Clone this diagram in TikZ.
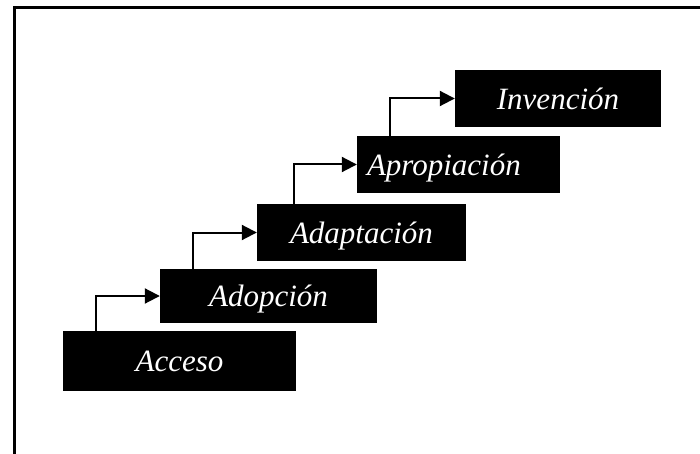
\documentclass[tikz,border=0pt]{standalone}
\usepackage{fontspec}
\setmainfont{Liberation Serif}
\usetikzlibrary{arrows.meta}

\tikzset{
  peldano/.style={fill=black, text=white, inner sep=0pt,
    font=\itshape\fontsize{31}{37}\selectfont,
    text height=23pt, text depth=1.5pt},
  subida/.style={line width=2pt, -{Triangle[length=15pt,width=15pt]}}
}

\begin{document}
\begin{tikzpicture}[x=1pt,y=-1pt]
      \useasboundingbox (0,0) rectangle (700,454);

      % open frame, top and left only
      \draw[line width=3pt] (14,454) -- (14,8) -- (700,8);

      % the five steps
      \node[peldano, minimum width=233pt, minimum height=60pt] (acceso) at (179.5,361) {Acceso};
      \node[peldano, minimum width=217pt, minimum height=54pt] (adopcion) at (268.5,296) {Adopción};
      \node[peldano, minimum width=209pt, minimum height=57pt] (adaptacion) at (361.5,232.5) {Adaptación};
      \node[peldano, minimum width=203pt, minimum height=57pt, text width=183pt, align=left] (apropiacion) at (458.5,164.5) {Apropiación};
      \node[peldano, minimum width=206pt, minimum height=57pt] (invencion) at (558,98.5) {Invención};

      % arrows going up the stairs
      \draw[subida] ([xshift=33pt]acceso.north west) |- (adopcion.west);
      \draw[subida] ([xshift=33pt]adopcion.north west) |- (adaptacion.west);
      \draw[subida] ([xshift=37pt]adaptacion.north west) |- (apropiacion.west);
      \draw[subida] ([xshift=33pt]apropiacion.north west) |- (invencion.west);
\end{tikzpicture}
\end{document}
